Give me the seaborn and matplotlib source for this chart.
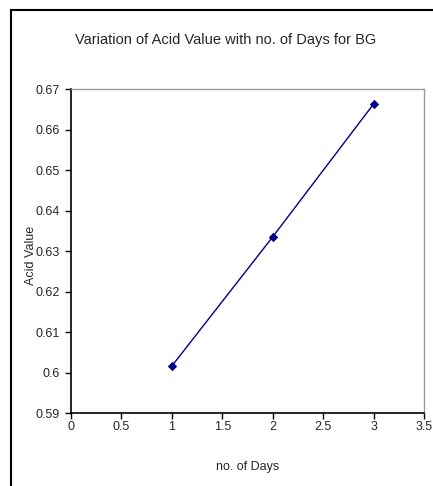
import matplotlib
matplotlib.use("Agg")
import matplotlib.pyplot as plt
import seaborn as sns
import pandas as pd
from matplotlib.patches import Rectangle

days = [1, 2, 3]
acid_value = [0.6016, 0.6335, 0.6663]
x_ticks = [0, 0.5, 1, 1.5, 2, 2.5, 3, 3.5]
x_tick_labels = ["0", "0.5", "1", "1.5", "2", "2.5", "3", "3.5"]
y_ticks = [0.59, 0.60, 0.61, 0.62, 0.63, 0.64, 0.65, 0.66, 0.67]
y_tick_labels = ["0.59", "0.6", "0.61", "0.62", "0.63", "0.64", "0.65", "0.66", "0.67"]

df = pd.DataFrame({"no. of Days": days, "Acid Value": acid_value})

sns.set_style("white")
plt.rcParams["font.family"] = ["Liberation Sans Narrow", "Liberation Sans", "DejaVu Sans"]

W, H = 433, 486
fig = plt.figure(figsize=(W / 100, H / 100), dpi=100)
ax = fig.add_axes([71 / W, 1 - 413 / H, (424 - 71) / W, (413 - 89) / H])

sns.lineplot(data=df, x="no. of Days", y="Acid Value", ax=ax, color="#000080",
             marker="D", markersize=4, markeredgecolor="#000080", linewidth=1)

ax.set_xlim(0, 3.5)
ax.set_ylim(0.59, 0.67)
ax.set_xticks(x_ticks)
ax.set_xticklabels(x_tick_labels)
ax.set_yticks(y_ticks)
ax.set_yticklabels(y_tick_labels)
ax.tick_params(axis="both", labelsize=9, length=4, width=1, color="black", direction="out")
ax.tick_params(axis="x", pad=2)
ax.tick_params(axis="y", pad=4)
ax.tick_params(bottom=True, left=True)

for side in ["top", "right"]:
    ax.spines[side].set_color("#999999")
    ax.spines[side].set_linewidth(1)
for side in ["left", "bottom"]:
    ax.spines[side].set_color("black")
    ax.spines[side].set_linewidth(1.2)

ax.set_xlabel("no. of Days", fontsize=9, labelpad=20)
ax.set_ylabel("Acid Value", fontsize=9)
ax.yaxis.set_label_coords((37 - 71) / (424 - 71), (413 - 255) / (413 - 89))

fig.text(226 / W, 1 - 40 / H, "Variation of Acid Value with no. of Days for BG",
         ha="center", va="center", fontsize=10.5)

fig.add_artist(Rectangle((11 / W, -0.1), 1.2, 1 - 10 / H + 0.1,
                         transform=fig.transFigure, fill=False,
                         edgecolor="black", linewidth=1.5))

fig.savefig("out.png", dpi=100)
